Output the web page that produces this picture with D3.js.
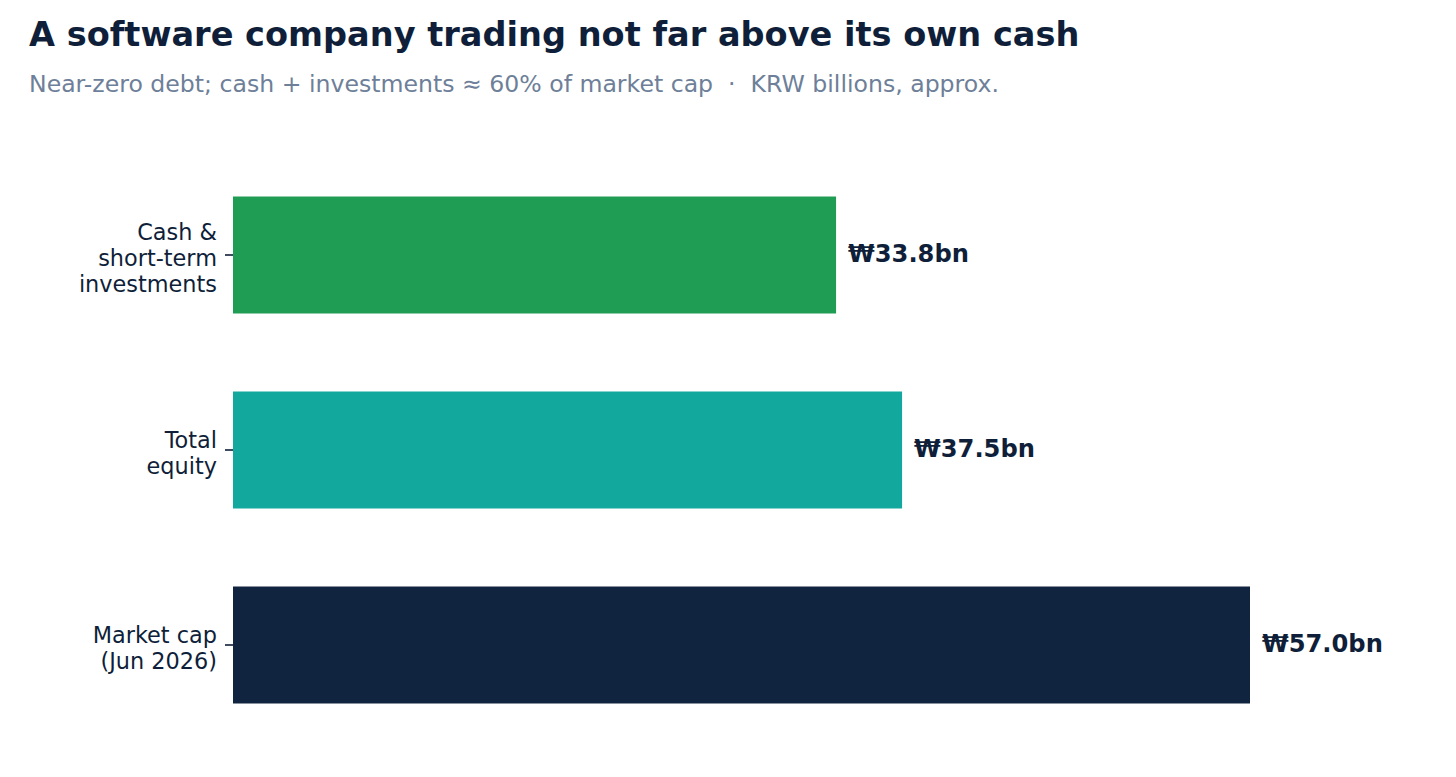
<!DOCTYPE html>
<html>
<head>
<meta charset="utf-8">
<script src="https://cdn.jsdelivr.net/npm/d3@7"></script>
<style>
  html, body { margin: 0; padding: 0; background: #ffffff; }
  svg { display: block; font-family: "DejaVu Sans", sans-serif; }
</style>
</head>
<body>
<svg id="chart" width="1456" height="777"></svg>
<script>
const categories = [
  ["Cash &", "short-term", "investments"],
  ["Total", "equity"],
  ["Market cap", "(Jun 2026)"]
];
const values = [33.8, 37.5, 57.0];
const valueLabels = ["₩33.8bn", "₩37.5bn", "₩57.0bn"];
const colors = ["#209d55", "#12a89e", "#11243f"];
const keys = ["cash", "equity", "mcap"];

const title = "A software company trading not far above its own cash";
const subtitle = "Near-zero debt; cash + investments ≈ 60% of market cap  ·  KRW billions, approx.";

const svg = d3.select("#chart");
const margin = { left: 233, top: 157.5 };
const plotW = 1250 - 233;
const plotBottom = 742.5;

const x = d3.scaleLinear().domain([0, 57.0]).range([margin.left, margin.left + plotW]);
const y = d3.scaleBand().domain(keys).range([margin.top, plotBottom]).paddingInner(0.4).paddingOuter(0.2);

svg.append("text")
  .attr("x", 29).attr("y", 46)
  .attr("font-size", 33.6).attr("font-weight", "bold")
  .attr("fill", "#0f1f3a")
  .text(title);

svg.append("text")
  .attr("x", 29).attr("y", 92)
  .attr("font-size", 23.6)
  .attr("fill", "#6e7f99")
  .attr("xml:space", "preserve")
  .style("white-space", "pre")
  .text(subtitle);

// bars
svg.append("g").selectAll("rect")
  .data(keys)
  .join("rect")
  .attr("x", x(0))
  .attr("y", k => y(k))
  .attr("width", (k, i) => x(values[i]) - x(0))
  .attr("height", y.bandwidth())
  .attr("fill", (k, i) => colors[i]);

// value labels
svg.append("g").selectAll("text")
  .data(keys)
  .join("text")
  .attr("x", (k, i) => x(values[i]) + 12)
  .attr("y", k => y(k) + y.bandwidth() / 2 + 6.8)
  .attr("font-size", 24.2)
  .attr("font-weight", "bold")
  .attr("fill", "#0f1f3a")
  .text((k, i) => valueLabels[i]);

// y axis
const yAxis = d3.axisLeft(y).tickSize(8).tickPadding(8).tickFormat(() => "");
const gy = svg.append("g").attr("transform", `translate(${margin.left},0)`).call(yAxis);
gy.select(".domain").remove();
gy.selectAll(".tick line").attr("stroke", "#0f1f3a").attr("stroke-width", 1.6);
gy.selectAll(".tick text").remove();

gy.selectAll(".tick").each(function(k, i) {
  const lines = categories[i];
  const n = lines.length;
  const lh = 26;
  const t = d3.select(this).append("text")
    .attr("x", -16)
    .attr("text-anchor", "end")
    .attr("font-size", 22.4)
    .attr("fill", "#0f1f3a")
    .attr("font-family", "DejaVu Sans, sans-serif");
  lines.forEach((s, j) => {
    t.append("tspan")
      .attr("x", -16)
      .attr("y", (j - (n - 1) / 2) * lh + 10.5)
      .text(s);
  });
});
</script>
</body>
</html>
